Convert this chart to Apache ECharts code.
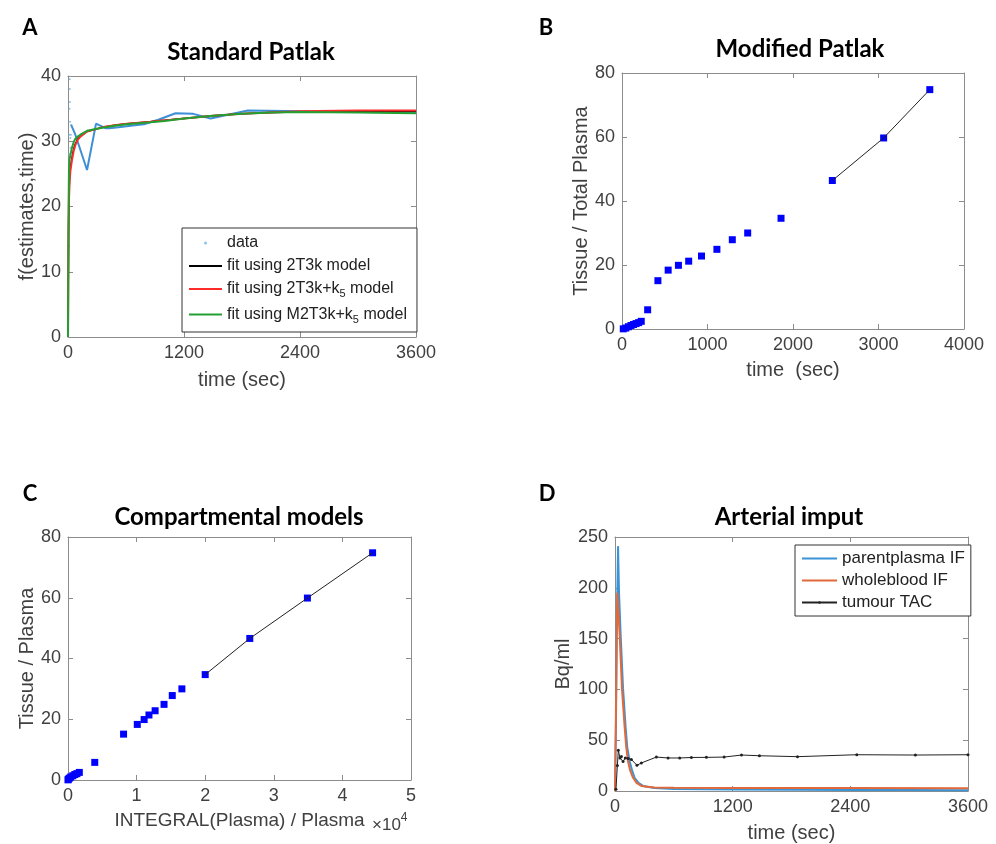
<!DOCTYPE html>
<html>
<head>
<meta charset="UTF-8">
<title>Patlak / compartmental fits</title>
<script src="https://cdn.jsdelivr.net/npm/echarts@6.0.0/dist/echarts.min.js"></script>
<style>
html, body { margin: 0; padding: 0; background: #fff; }
#main { width: 996px; height: 844px; }
</style>
</head>
<body>
<div id="main"></div>
<script>
// ---- A: standard Patlak ----
var timeDotsA = [10, 12, 14, 15, 16, 17, 18, 19, 20, 22, 24, 27, 30, 33];
var valDotsA = [14, 21, 25, 28, 31, 35, 39.5, 38, 36, 33, 30.5, 29, 31, 32.5];
var timeDataA = [33, 48, 76, 197, 290, 386, 428, 545, 669, 786, 934, 1113, 1296, 1475, 1860, 2459, 3062, 3600];
var valDataA = [32.5, 32.8, 31.0, 25.6, 32.7, 32.0, 32.0, 32.2, 32.4, 32.6, 33.3, 34.3, 34.2, 33.5, 34.7, 34.6, 34.5, 34.4];
var timeFitA = [0, 3, 6, 10, 17, 25, 41, 60, 76, 100, 128, 197, 300, 369, 500, 610, 852, 1000, 1200, 1500, 1800, 2100, 2400, 3000, 3600];
var fit2T3k = [0, 9, 17, 22, 24.5, 26, 27.5, 28.9, 29.6, 30.3, 30.8, 31.5, 31.9, 32.2, 32.5, 32.7, 33.0, 33.2, 33.5, 33.9, 34.2, 34.4, 34.5, 34.6, 34.6];
var fit2T3kK5 = [0, 8, 16, 21, 24, 25.5, 27.1, 28.6, 29.4, 30.2, 30.7, 31.5, 31.9, 32.2, 32.5, 32.7, 33.0, 33.2, 33.5, 33.9, 34.2, 34.4, 34.6, 34.7, 34.7];
var fitM2T3kK5 = [0, 10, 20, 25.6, 27.3, 27.9, 29.0, 29.9, 30.4, 30.7, 31.0, 31.6, 31.9, 32.1, 32.4, 32.6, 32.9, 33.1, 33.5, 33.9, 34.2, 34.4, 34.5, 34.4, 34.3];

// ---- B: modified Patlak ----
var frameTime = [15, 45, 75, 105, 135, 165, 195, 225, 300, 420, 540, 660, 780, 930, 1110, 1290, 1470, 1860, 2460, 3060, 3600];
var tissueTotal = [0.05, 0.3, 0.7, 1.1, 1.4, 1.7, 2.0, 2.4, 6.0, 15.1, 18.4, 19.9, 21.2, 22.8, 24.9, 27.9, 30.0, 34.6, 46.4, 59.7, 74.8];
var fitStartB = 18;

// ---- C: compartmental models ----
var integralRatio = [0, 60, 200, 400, 700, 1000, 1300, 1650, 3900, 8100, 10100, 11100, 11800, 12700, 14000, 15200, 16600, 20000, 26500, 34900, 44400];
var tissuePlasma = [0.05, 0.3, 0.6, 1.0, 1.4, 1.8, 2.1, 2.5, 5.8, 15.1, 18.3, 19.9, 21.4, 22.8, 24.9, 27.8, 30.0, 34.7, 46.6, 59.9, 74.8];
var fitStartC = 17;

// ---- D: arterial input ----
var timePlasma = [0, 10, 20, 31, 41, 58, 82, 109, 125, 150, 175, 200, 240, 286, 400, 600, 900, 1200, 1800, 2400, 3000, 3600];
var parentPlasma = [0, 70, 170, 241, 195, 153, 101, 62, 43, 29, 20, 13, 8, 5, 3, 2, 1.6, 1.4, 1.2, 1.0, 0.9, 0.8];
var timeBlood = [0, 8, 16, 24, 35, 48, 71, 99, 115, 133, 155, 184, 220, 269, 400, 600, 1200, 2400, 3600];
var wholeBlood = [0, 60, 150, 195, 175, 153, 101, 62, 43, 29, 20, 13, 8, 5, 3.5, 3.2, 3.0, 2.9, 2.8];
var timeTac = [10, 24, 34, 51, 65, 82, 105, 133, 167, 224, 269, 422, 541, 660, 779, 932, 1113, 1290, 1473, 1861, 2466, 3063, 3600];
var tumourTac = [1.6, 25, 40, 32.5, 34, 29, 32.5, 32, 31, 25.3, 27.6, 33.4, 32.5, 32.5, 33, 33.1, 33.4, 35.4, 34.7, 33.8, 35.7, 35.4, 35.7];

function zip(xs, ys) {
	var out = [];
	for (var i = 0; i < xs.length; i++) {
		out.push([xs[i], ys[i]]);
	}
	return out;
}

var axisColor = '#8c8c8c';
var labelColor = '#404040';
var sans = 'Liberation Sans';

function plain(v) { return String(v); }

// main axis + mirrored axis (MATLAB box with ticks on all sides)
function axisPair(dim, grid, min, max, step, name, gap, fmt, nameSize) {
	var main = {
		type: 'value', gridIndex: grid, min: min, max: max, interval: step,
		position: dim == 'x' ? 'bottom' : 'left',
		axisLine: { show: true, onZero: false, lineStyle: { color: axisColor } },
		axisTick: { show: true, inside: true, length: 5, lineStyle: { color: axisColor } },
		splitLine: { show: false },
		axisLabel: { color: labelColor, fontSize: 18, fontFamily: sans, margin: 7, showMinLabel: true, showMaxLabel: true, formatter: fmt || plain },
		name: name, nameLocation: 'middle', nameGap: gap,
		nameTextStyle: { color: labelColor, fontSize: nameSize || 20, fontFamily: sans }
	};
	var mirror = {
		type: 'value', gridIndex: grid, min: min, max: max, interval: step,
		position: dim == 'x' ? 'top' : 'right',
		axisLine: { show: true, onZero: false, lineStyle: { color: axisColor } },
		axisTick: { show: true, inside: true, length: 5, lineStyle: { color: axisColor } },
		splitLine: { show: false },
		axisLabel: { show: false }
	};
	return [main, mirror];
}

var xAxes = [].concat(
	axisPair('x', 0, 0, 3600, 1200, 'time (sec)', 33),
	axisPair('x', 1, 0, 4000, 1000, 'time  (sec)', 31),
	axisPair('x', 2, 0, 50000, 10000, 'INTEGRAL(Plasma) / Plasma', 31, function (v) { return String(v / 10000); }, 19),
	axisPair('x', 3, 0, 3600, 1200, 'time (sec)', 32)
);
var yAxes = [].concat(
	axisPair('y', 0, 0, 40, 10, 'f(estimates,time)', 30),
	axisPair('y', 1, 0, 80, 20, 'Tissue / Total Plasma', 30),
	axisPair('y', 2, 0, 80, 20, 'Tissue / Plasma', 30),
	axisPair('y', 3, 0, 250, 50, 'Bq/ml', 42)
);

function titleAt(text, x, y, size) {
	return {
		text: text, left: x, top: y, textAlign: 'center',
		textStyle: { fontFamily: 'Lato', fontWeight: 'bold', fontSize: size, color: '#000' }
	};
}

function lineSeries(name, grid, data, color, width) {
	return {
		name: name, type: 'line', xAxisIndex: grid * 2, yAxisIndex: grid * 2,
		data: data, symbol: 'none', lineStyle: { color: color, width: width },
		itemStyle: { color: color }, animation: false
	};
}

function lineOnly(name) {
	return { name: name, itemStyle: { opacity: 0 } };
}

var legendText = {
	fontFamily: sans, fontSize: 16, color: '#222',
	rich: { s: { fontFamily: sans, fontSize: 11, color: '#222', padding: [10, 0, 0, 0] } }
};

var option = {
	backgroundColor: '#fff',
	animation: false,
	title: [
		titleAt('A', 25, 12, 22),
		titleAt('B', 541, 12, 22),
		titleAt('C', 25, 478, 22),
		titleAt('D', 542, 478, 22),
		titleAt('Standard Patlak', 246, 35, 24),
		titleAt('Modified Patlak', 795, 32, 24),
		titleAt('Compartmental models', 234, 500, 24),
		titleAt('Arterial imput', 784, 500, 24)
	],
	grid: [
		{ left: 68, top: 76, width: 348, height: 261 },
		{ left: 622, top: 73, width: 342, height: 256 },
		{ left: 68, top: 537, width: 343, height: 243 },
		{ left: 615, top: 537, width: 353, height: 256 }
	],
	xAxis: xAxes,
	yAxis: yAxes,
	legend: [
		{
			left: 182, top: 228, orient: 'vertical',
			itemWidth: 33, itemHeight: 3, itemGap: 7,
			padding: [7, 10, 7, 6],
			backgroundColor: '#fff', borderColor: '#333', borderWidth: 1,
			textStyle: legendText,
			formatter: function (name) { return name.replace('k5', 'k{s|5}'); },
			data: ['data', lineOnly('fit using 2T3k model'), lineOnly('fit using 2T3k+k5 model'), lineOnly('fit using M2T3k+k5 model')]
		},
		{
			left: 795, top: 545, orient: 'vertical',
			itemWidth: 35, itemHeight: 3, itemGap: 5,
			padding: [5, 6, 5, 6],
			backgroundColor: '#fff', borderColor: '#333', borderWidth: 1,
			textStyle: { fontFamily: sans, fontSize: 17, color: '#222' },
			data: [lineOnly('parentplasma IF'), lineOnly('wholeblood IF'), 'tumour TAC']
		}
	],
	graphic: [
		{
			type: 'text', left: 372, top: 812,
			style: {
				text: '{a|×10}{b|4}',
				rich: {
					a: { fontFamily: sans, fontSize: 17, fill: labelColor, padding: [6, 0, 0, 0] },
					b: { fontFamily: sans, fontSize: 12, fill: labelColor, padding: [0, 0, 8, 0] }
				}
			}
		}
	],
	series: [
		// A
		{
			name: 'data', type: 'scatter', xAxisIndex: 0, yAxisIndex: 0,
			data: zip(timeDotsA, valDotsA), symbol: 'circle', symbolSize: 2,
			itemStyle: { color: '#8cc2ec', opacity: 1 }, animation: false
		},
		lineSeries('measured', 0, zip(timeDataA, valDataA), '#3d8fd6', 2),
		lineSeries('fit using 2T3k model', 0, zip(timeFitA, fit2T3k), '#000', 1.5),
		lineSeries('fit using 2T3k+k5 model', 0, zip(timeFitA, fit2T3kK5), '#ff2a2a', 2),
		lineSeries('fit using M2T3k+k5 model', 0, zip(timeFitA, fitM2T3kK5), '#22a032', 2),
		// B
		lineSeries('fitB', 1, zip(frameTime.slice(fitStartB), tissueTotal.slice(fitStartB)), '#222', 1),
		{
			name: 'ratioB', type: 'scatter', xAxisIndex: 2, yAxisIndex: 2,
			data: zip(frameTime, tissueTotal), symbol: 'rect', symbolSize: 7,
			itemStyle: { color: '#0000ff', opacity: 1 }, animation: false
		},
		// C
		lineSeries('fitC', 2, zip(integralRatio.slice(fitStartC), tissuePlasma.slice(fitStartC)), '#222', 1),
		{
			name: 'ratioC', type: 'scatter', xAxisIndex: 4, yAxisIndex: 4,
			data: zip(integralRatio, tissuePlasma), symbol: 'rect', symbolSize: 7,
			itemStyle: { color: '#0000ff', opacity: 1 }, animation: false
		},
		// D
		lineSeries('parentplasma IF', 3, zip(timePlasma, parentPlasma), '#3a94d8', 2),
		lineSeries('wholeblood IF', 3, zip(timeBlood, wholeBlood), '#e2693a', 2),
		{
			name: 'tumour TAC', type: 'line', xAxisIndex: 6, yAxisIndex: 6,
			data: zip(timeTac, tumourTac), symbol: 'circle', symbolSize: 3, showSymbol: true,
			lineStyle: { color: '#222', width: 1 }, itemStyle: { color: '#222' }, animation: false
		}
	]
};

var myChart = echarts.init(document.getElementById('main'));
myChart.setOption(option);
</script>
</body>
</html>
